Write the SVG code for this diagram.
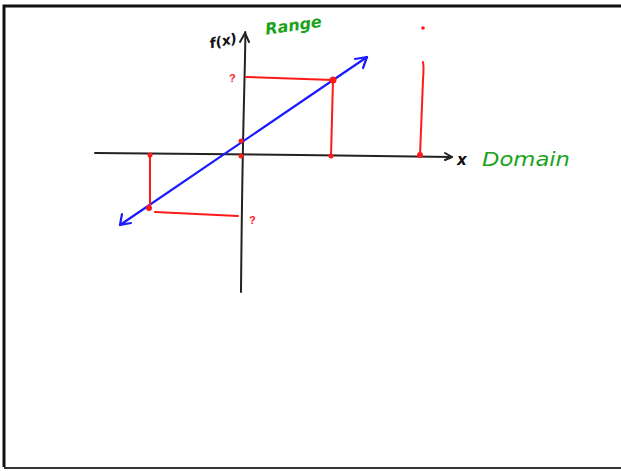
<svg xmlns="http://www.w3.org/2000/svg" width="621" height="471" viewBox="0 0 621 471">
<defs>
<style>
.ax{stroke:#222;stroke-width:2;fill:none;stroke-linecap:round;stroke-linejoin:round}
.bl{stroke:#1a1aff;stroke-width:2.2;fill:none;stroke-linecap:round;stroke-linejoin:round}
.rd{stroke:#ff1a1a;stroke-width:2;fill:none;stroke-linecap:round}
.dot{fill:#ff1a1a}
.g{fill:#1aa31a;font-family:"DejaVu Sans",sans-serif;font-style:italic}
.k{fill:#111;font-family:"DejaVu Sans",sans-serif;font-style:italic;font-weight:bold}
.q{fill:#ff1a1a;font-family:"Liberation Sans",sans-serif;font-weight:bold;font-size:11px}
</style>
</defs>
<rect width="621" height="471" fill="#fff"/>
<g id="frame">
<path d="M4 467 V6 H621" stroke="#111" stroke-width="3" fill="none"/>
<path d="M4 468 H621" stroke="#333" stroke-width="2" fill="none"/>
</g>
<g id="connectors">
<path class="ax" d="M95 153 Q200 154 300 155 T452 157"/>
<path class="ax" d="M445 153 L452 157 L445 160"/>
<path class="ax" d="M241 292 Q242 180 244 100 T245 34"/>
<path class="ax" d="M240 42 L245 33 L249 42"/>
<path class="bl" d="M120 225 L367 57"/>
<path class="bl" d="M355 59 L367 57 L363 68"/>
<path class="bl" d="M122 214 L120 225 L131 223"/>
<path class="rd" d="M333 80 L331 156"/>
<path class="rd" d="M246 77 L333 80"/>
<path class="rd" d="M150 156 L150 208"/>
<path class="rd" d="M155 212 L238 216"/>
<path class="rd" d="M423 62 Q424 66 423 80 L420 155"/>
</g>
<g id="points">
<circle class="dot" cx="241" cy="141" r="2.5"/>
<circle class="dot" cx="241" cy="156" r="2.5"/>
<circle class="dot" cx="333" cy="80" r="3.5"/>
<circle class="dot" cx="331" cy="156" r="2.5"/>
<circle class="dot" cx="420" cy="155" r="3"/>
<circle class="dot" cx="150" cy="155" r="2.5"/>
<circle class="dot" cx="149" cy="208" r="3"/>
<circle class="dot" cx="423" cy="28" r="1.8"/>
</g>
<g id="labels">
<text class="k" x="209" y="46" font-size="14" transform="rotate(-12 222 40)">f(x)</text>
<text class="g" x="265" y="31" font-size="16" font-weight="bold" transform="rotate(-8 292 25)">Range</text>
<text class="k" x="457" y="165" font-size="15">x</text>
<text class="g" x="482" y="166" font-size="20" textLength="88" lengthAdjust="spacingAndGlyphs">Domain</text>
<text class="q" x="229" y="82">?</text>
<text class="q" x="249" y="224">?</text>
</g>
</svg>
